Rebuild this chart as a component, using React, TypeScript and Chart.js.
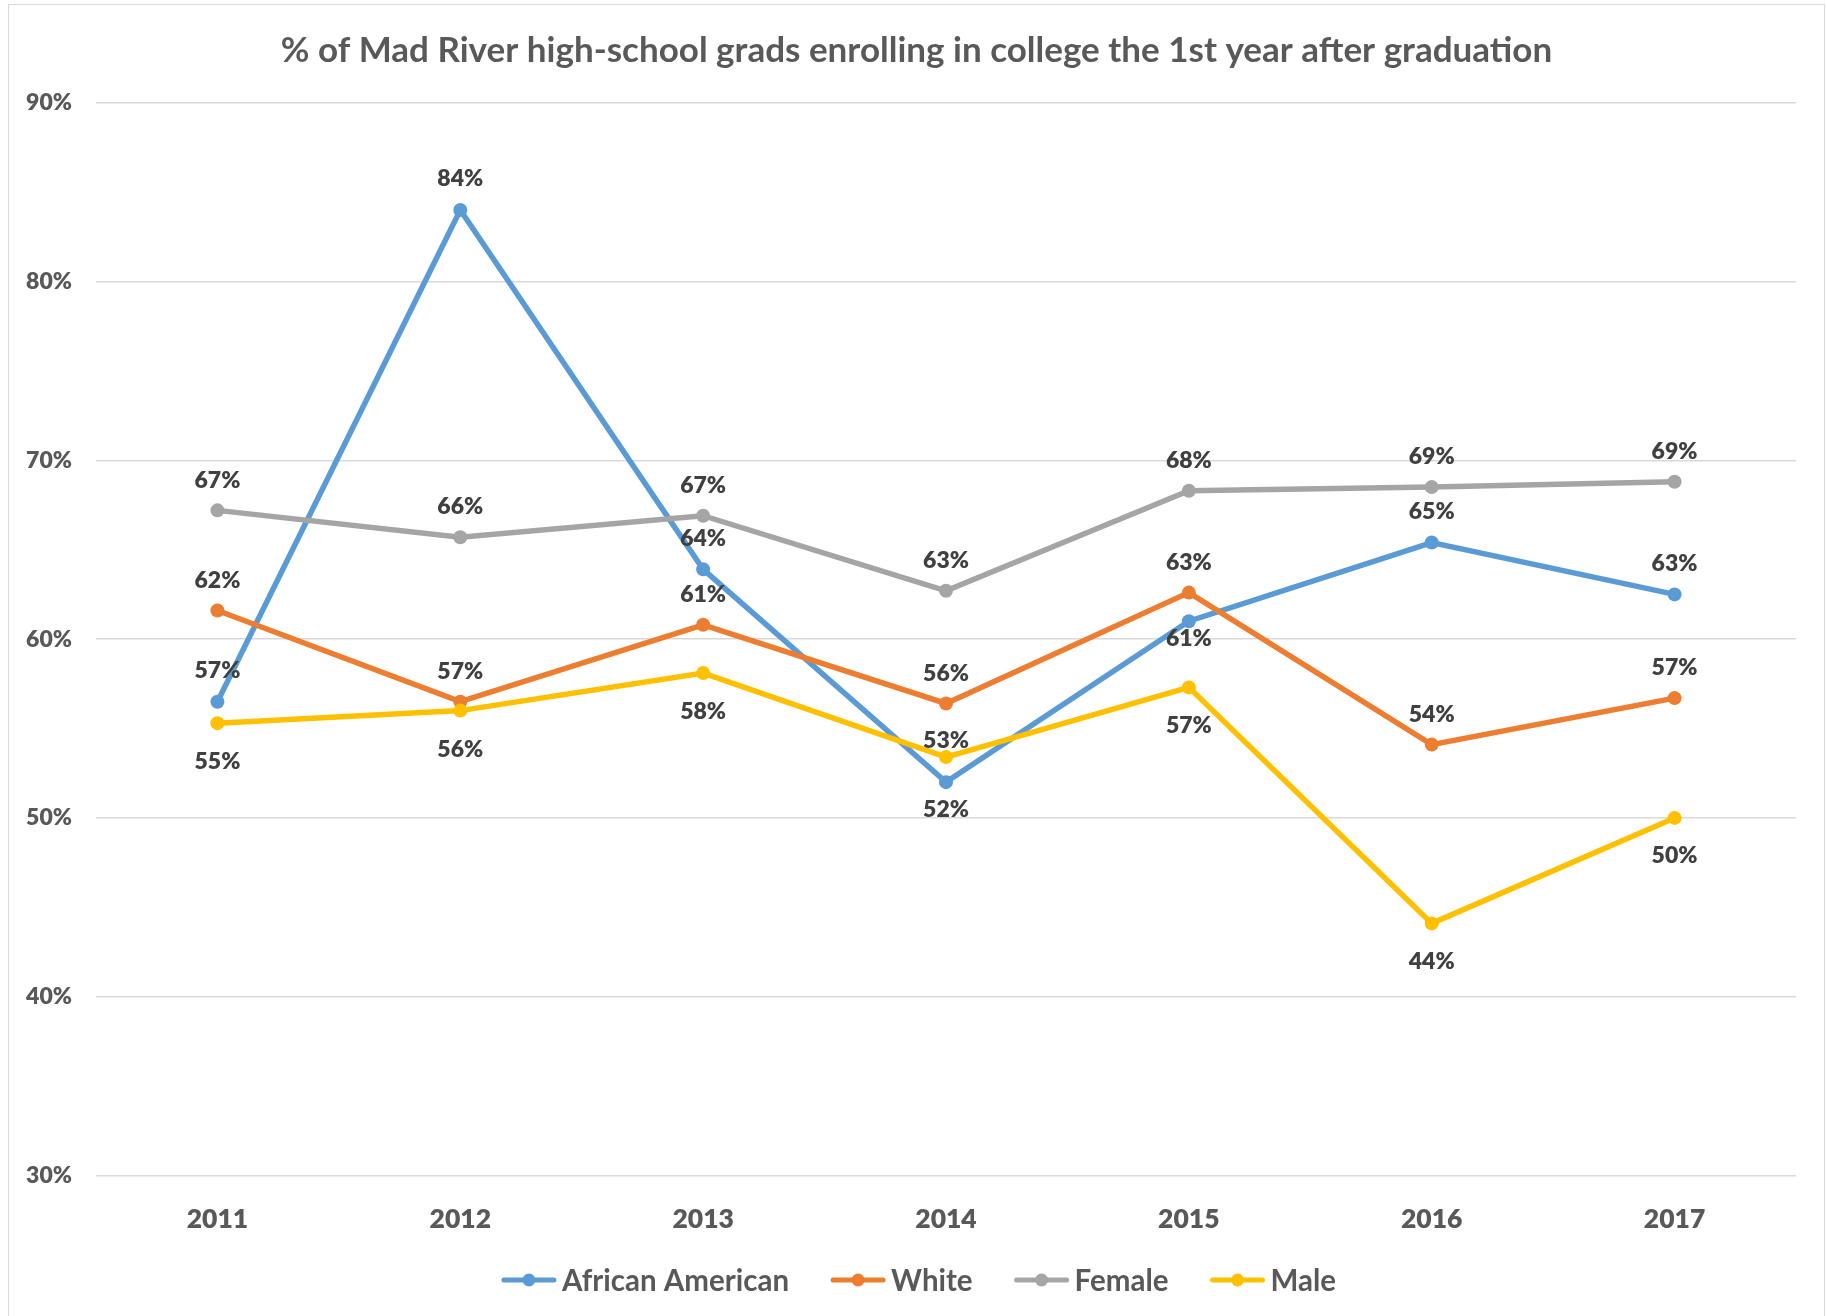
import React, { useEffect, useRef } from "react";
import { Chart, registerables } from "chart.js";

Chart.register(...registerables);

const titleText = "% of Mad River high-school grads enrolling in college the 1st year after graduation";
const categories = ["2011", "2012", "2013", "2014", "2015", "2016", "2017"];
const africanAmerican = [56.5, 84.0, 63.9, 52.0, 61.0, 65.4, 62.5];
const white = [61.6, 56.5, 60.8, 56.4, 62.6, 54.1, 56.7];
const female = [67.2, 65.7, 66.9, 62.7, 68.3, 68.5, 68.8];
const male = [55.3, 56.0, 58.1, 53.4, 57.3, 44.1, 50.0];
const seriesNames = ["African American", "White", "Female", "Male"];
const seriesColors = ["#5B9BD5", "#ED7D31", "#A5A5A5", "#FFC000"];
const yMin = 30;
const yMax = 90;
const yStep = 10;
// vertical offset (px) of each data label's centre from its point
const labelOffsetAfricanAmerican = [-32, -32, -32, 27, 17, -32, -32];
const labelOffsetWhite = [-31, -31, -31, -31, -31, -31, -31];
const labelOffsetFemale = [-31, -31, -31, -31, -31, -31, -31];
const labelOffsetMale = [38, 38, 38, -17, 37, 37, 37];

const FONT = "Lato, 'Open Sans', sans-serif";
const CAP = 0.717;

export default function App() {
  const ref = useRef<HTMLCanvasElement | null>(null);

  useEffect(() => {
    if (!ref.current) return;
    const allSeries = [africanAmerican, white, female, male];
    const allOffsets = [labelOffsetAfricanAmerican, labelOffsetWhite, labelOffsetFemale, labelOffsetMale];

    const framePlugin = {
      id: "frame",
      beforeDraw(chart: any) {
        const ctx = chart.ctx;
        ctx.save();
        ctx.fillStyle = "#ffffff";
        ctx.fillRect(0, 0, chart.width, chart.height);
        ctx.strokeStyle = "#d9d9d9";
        ctx.lineWidth = 1;
        ctx.strokeRect(8.5, 4.5, 1816, 1400);
        ctx.restore();
      },
      afterDraw(chart: any) {
        const ctx = chart.ctx;
        ctx.save();
        // title
        const ts = 35;
        ctx.font = `bold ${ts}px ${FONT}`;
        ctx.fillStyle = "#595959";
        ctx.textAlign = "center";
        ctx.textBaseline = "alphabetic";
        ctx.fillText(titleText, 916.5, 49 + (ts * CAP) / 2);

        // legend
        const ls = 29.5;
        ctx.font = `bold ${ls}px ${FONT}`;
        const markW = 54;
        const gapText = 6;
        const gapItem = 42;
        const widths = seriesNames.map((n) => ctx.measureText(n).width);
        const total =
          widths.reduce((a, b) => a + b, 0) +
          seriesNames.length * (markW + gapText) +
          (seriesNames.length - 1) * gapItem;
        let x = 919 - total / 2;
        const cy = 1280;
        seriesNames.forEach((n, i) => {
          ctx.strokeStyle = seriesColors[i];
          ctx.lineWidth = 5;
          ctx.lineCap = "round";
          ctx.beginPath();
          ctx.moveTo(x + 2, cy);
          ctx.lineTo(x + markW - 2, cy);
          ctx.stroke();
          ctx.fillStyle = seriesColors[i];
          ctx.beginPath();
          ctx.arc(x + markW / 2, cy, 6.5, 0, Math.PI * 2);
          ctx.fill();
          ctx.fillStyle = "#595959";
          ctx.textAlign = "left";
          ctx.fillText(n, x + markW + gapText, cy + (ls * CAP) / 2);
          x += markW + gapText + widths[i] + gapItem;
        });
        ctx.restore();
      },
    };

    const labelPlugin = {
      id: "pointLabels",
      afterDatasetsDraw(chart: any) {
        const ctx = chart.ctx;
        const fs = 23;
        ctx.save();
        ctx.font = `800 ${fs}px ${FONT}`;
        ctx.fillStyle = "#404040";
        ctx.textAlign = "center";
        ctx.textBaseline = "alphabetic";
        chart.data.datasets.forEach((ds: any, i: number) => {
          const meta = chart.getDatasetMeta(i);
          meta.data.forEach((pt: any, j: number) => {
            const v = ds.data[j] as number;
            const cy = pt.y + allOffsets[i][j];
            ctx.fillText(Math.round(v) + "%", pt.x, cy + (fs * CAP) / 2);
          });
        });
        ctx.restore();
      },
    };

    const chart = new Chart(ref.current, {
      type: "line",
      data: {
        labels: categories,
        datasets: allSeries.map((d, i) => ({
          label: seriesNames[i],
          data: d,
          borderColor: seriesColors[i],
          backgroundColor: seriesColors[i],
          pointBackgroundColor: seriesColors[i],
          pointBorderColor: seriesColors[i],
          pointBorderWidth: 0,
          pointRadius: 7,
          borderWidth: 5.5,
          tension: 0,
          fill: false,
          order: allSeries.length - i,
        })),
      },
      options: {
        responsive: false,
        animation: false,
        devicePixelRatio: 1,
        events: [],
        layout: { padding: { top: 102.7, left: 8, right: 31, bottom: 70.5 } },
        plugins: {
          legend: { display: false },
          title: { display: false },
          tooltip: { enabled: false },
        },
        scales: {
          x: {
            offset: true,
            grid: { display: false, drawTicks: false },
            border: { display: false },
            ticks: {
              color: "#595959",
              font: { family: FONT, size: 26.5, weight: "800", lineHeight: 1.2 },
              padding: 28,
              maxRotation: 0,
            },
            afterFit(s: any) {
              s.height = 70;
            },
          },
          y: {
            min: yMin,
            max: yMax,
            grid: { color: "#d9d9d9", lineWidth: 1.5, drawTicks: false },
            border: { display: false },
            ticks: {
              stepSize: yStep,
              color: "#595959",
              font: { family: FONT, size: 23, weight: "800" },
              padding: 24,
              callback: (v: any) => v + "%",
            },
            afterFit(s: any) {
              s.width = 88;
            },
          },
        },
      },
      plugins: [framePlugin, labelPlugin],
    });
    return () => chart.destroy();
  }, []);

  return (
    <div style={{ position: "absolute", left: 0, top: 0, width: 1827, height: 1316 }}>
      <canvas ref={ref} width={1827} height={1316} style={{ display: "block" }} />
    </div>
  );
}
